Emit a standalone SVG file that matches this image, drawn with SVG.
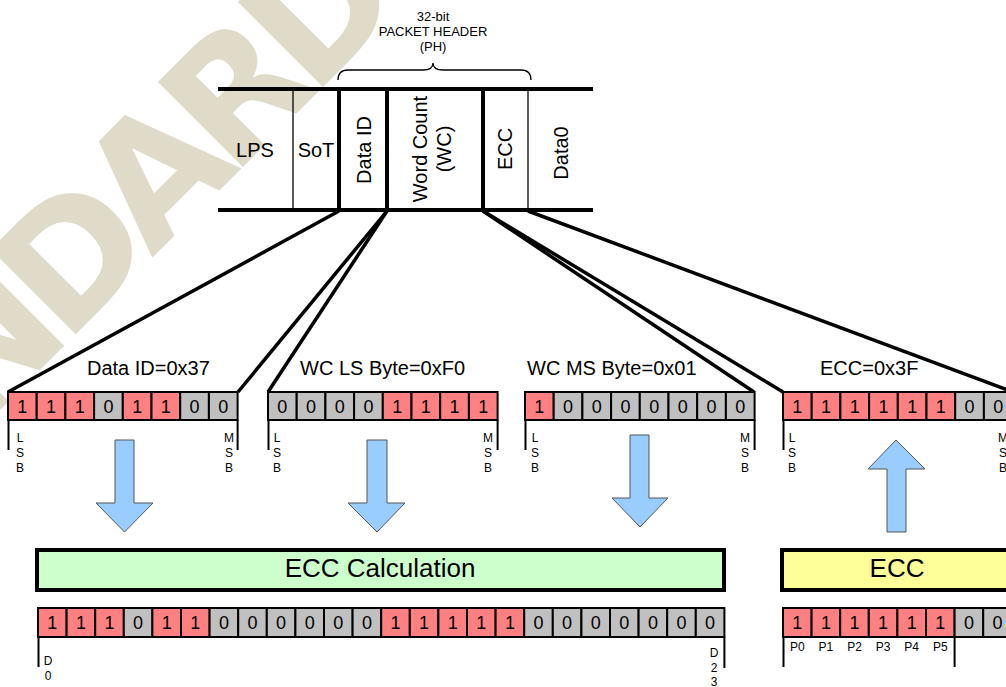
<svg xmlns="http://www.w3.org/2000/svg" width="1006" height="687" viewBox="0 0 1006 687">
<style>
text{font-family:"Liberation Sans",Arial,sans-serif;fill:#000}
.hdr{font-size:20px;text-anchor:middle}
.ttl{font-size:13px;text-anchor:middle}
.lbl{font-size:20px}
.bit{font-size:18px;text-anchor:middle}
.sm{font-size:12px;text-anchor:middle}
.r{fill:#FF8080;stroke:#000;stroke-width:2}
.g{fill:#C0C0C0;stroke:#000;stroke-width:2}
.thick{stroke:#000;stroke-width:4;fill:none}
.thin{stroke:#000;stroke-width:1.3;fill:none}
.conn{stroke:#000;stroke-width:3.5;fill:none}
.tick{stroke:#000;stroke-width:2;fill:none}
.arr{fill:#99CCFF;stroke:#555;stroke-width:1}
.wm{font-family:"DejaVu Sans",sans-serif;font-weight:bold;font-size:165px;letter-spacing:-14px;fill:#E0DBC8}
</style>
<rect width="1006" height="687" fill="#fff"/>
<text class="wm" transform="translate(-238,648) rotate(-45)">STANDARD</text>

<g id="header">
<line class="thick" x1="218" y1="89" x2="593" y2="89"/>
<line class="thick" x1="218" y1="210" x2="593" y2="210"/>
<line class="thin" x1="293" y1="89" x2="293" y2="210"/>
<line class="thick" x1="339" y1="89" x2="339" y2="210"/>
<line class="thick" x1="387" y1="89" x2="387" y2="210"/>
<line class="thick" x1="483" y1="89" x2="483" y2="210"/>
<line class="thin" x1="528" y1="89" x2="528" y2="210"/>
<text class="hdr" x="255" y="157">LPS</text>
<text class="hdr" x="316" y="157">SoT</text>
<text class="hdr" transform="translate(371,150) rotate(-90)">Data ID</text>
<text class="hdr" transform="translate(427,149) rotate(-90)">Word Count</text>
<text class="hdr" transform="translate(451,149) rotate(-90)">(WC)</text>
<text class="hdr" transform="translate(512,149) rotate(-90)">ECC</text>
<text class="hdr" transform="translate(568,153) rotate(-90)">Data0</text>
</g>

<g id="ph-brace">
<path class="thin" stroke-width="1" d="M338,80 Q338,70 348,70 L423,70 Q433,70 433,63 Q433,70 443,70 L521,70 Q531,70 531,80"/>
<text class="ttl" x="433" y="21">32-bit</text>
<text class="ttl" x="433" y="36">PACKET HEADER</text>
<text class="ttl" x="433" y="51">(PH)</text>
</g>

<g id="connectors">
<line class="conn" x1="339" y1="211" x2="8" y2="392"/>
<line class="conn" x1="387" y1="211" x2="238" y2="392"/>
<line class="conn" x1="387" y1="211" x2="268" y2="392"/>
<line class="conn" x1="483" y1="211" x2="754" y2="392"/>
<line class="conn" x1="483" y1="211" x2="783" y2="392"/>
<line class="conn" x1="528" y1="211" x2="1013" y2="392"/>
</g>

<g id="dataid-byte">
<text class="lbl" x="87" y="375">Data ID=0x37</text>
<rect class="r" x="8" y="392" width="28.7" height="28"/>
<rect class="r" x="36.7" y="392" width="28.7" height="28"/>
<rect class="r" x="65.4" y="392" width="28.7" height="28"/>
<rect class="g" x="94.1" y="392" width="28.7" height="28"/>
<rect class="r" x="122.8" y="392" width="28.7" height="28"/>
<rect class="r" x="151.5" y="392" width="28.7" height="28"/>
<rect class="g" x="180.2" y="392" width="28.7" height="28"/>
<rect class="g" x="208.9" y="392" width="28.7" height="28"/>
<text class="bit" x="22.35" y="413">1</text>
<text class="bit" x="51.05" y="413">1</text>
<text class="bit" x="79.75" y="413">1</text>
<text class="bit" x="108.45" y="413">0</text>
<text class="bit" x="137.15" y="413">1</text>
<text class="bit" x="165.85" y="413">1</text>
<text class="bit" x="194.55" y="413">0</text>
<text class="bit" x="223.25" y="413">0</text>
<line class="tick" x1="8.5" y1="420" x2="8.5" y2="450"/>
<line class="tick" x1="237.6" y1="420" x2="237.6" y2="450"/>
<text class="sm" x="20" y="442">L</text><text class="sm" x="20" y="457">S</text><text class="sm" x="20" y="472">B</text>
<text class="sm" x="229" y="442">M</text><text class="sm" x="229" y="457">S</text><text class="sm" x="229" y="472">B</text>
</g>

<g id="wcls-byte">
<text class="lbl" x="300" y="375">WC LS Byte=0xF0</text>
<rect class="g" x="268" y="392" width="28.7" height="28"/>
<rect class="g" x="296.7" y="392" width="28.7" height="28"/>
<rect class="g" x="325.4" y="392" width="28.7" height="28"/>
<rect class="g" x="354.1" y="392" width="28.7" height="28"/>
<rect class="r" x="382.8" y="392" width="28.7" height="28"/>
<rect class="r" x="411.5" y="392" width="28.7" height="28"/>
<rect class="r" x="440.2" y="392" width="28.7" height="28"/>
<rect class="r" x="468.9" y="392" width="28.7" height="28"/>
<text class="bit" x="282.35" y="413">0</text>
<text class="bit" x="311.05" y="413">0</text>
<text class="bit" x="339.75" y="413">0</text>
<text class="bit" x="368.45" y="413">0</text>
<text class="bit" x="397.15" y="413">1</text>
<text class="bit" x="425.85" y="413">1</text>
<text class="bit" x="454.55" y="413">1</text>
<text class="bit" x="483.25" y="413">1</text>
<line class="tick" x1="268.5" y1="420" x2="268.5" y2="450"/>
<line class="tick" x1="497.6" y1="420" x2="497.6" y2="450"/>
<text class="sm" x="277" y="442">L</text><text class="sm" x="277" y="457">S</text><text class="sm" x="277" y="472">B</text>
<text class="sm" x="488" y="442">M</text><text class="sm" x="488" y="457">S</text><text class="sm" x="488" y="472">B</text>
</g>

<g id="wcms-byte">
<text class="lbl" x="527" y="375">WC MS Byte=0x01</text>
<rect class="r" x="525" y="392" width="28.7" height="28"/>
<rect class="g" x="553.7" y="392" width="28.7" height="28"/>
<rect class="g" x="582.4" y="392" width="28.7" height="28"/>
<rect class="g" x="611.1" y="392" width="28.7" height="28"/>
<rect class="g" x="639.8" y="392" width="28.7" height="28"/>
<rect class="g" x="668.5" y="392" width="28.7" height="28"/>
<rect class="g" x="697.2" y="392" width="28.7" height="28"/>
<rect class="g" x="725.9" y="392" width="28.7" height="28"/>
<text class="bit" x="539.35" y="413">1</text>
<text class="bit" x="568.05" y="413">0</text>
<text class="bit" x="596.75" y="413">0</text>
<text class="bit" x="625.45" y="413">0</text>
<text class="bit" x="654.15" y="413">0</text>
<text class="bit" x="682.85" y="413">0</text>
<text class="bit" x="711.55" y="413">0</text>
<text class="bit" x="740.25" y="413">0</text>
<line class="tick" x1="525.5" y1="420" x2="525.5" y2="450"/>
<line class="tick" x1="754.6" y1="420" x2="754.6" y2="450"/>
<text class="sm" x="535" y="442">L</text><text class="sm" x="535" y="457">S</text><text class="sm" x="535" y="472">B</text>
<text class="sm" x="745" y="442">M</text><text class="sm" x="745" y="457">S</text><text class="sm" x="745" y="472">B</text>
</g>

<g id="ecc-byte">
<text class="lbl" x="820" y="375">ECC=0x3F</text>
<rect class="r" x="783" y="392" width="28.7" height="28"/>
<rect class="r" x="811.7" y="392" width="28.7" height="28"/>
<rect class="r" x="840.4" y="392" width="28.7" height="28"/>
<rect class="r" x="869.1" y="392" width="28.7" height="28"/>
<rect class="r" x="897.8" y="392" width="28.7" height="28"/>
<rect class="r" x="926.5" y="392" width="28.7" height="28"/>
<rect class="g" x="955.2" y="392" width="28.7" height="28"/>
<rect class="g" x="983.9" y="392" width="28.7" height="28"/>
<text class="bit" x="797.35" y="413">1</text>
<text class="bit" x="826.05" y="413">1</text>
<text class="bit" x="854.75" y="413">1</text>
<text class="bit" x="883.45" y="413">1</text>
<text class="bit" x="912.15" y="413">1</text>
<text class="bit" x="940.85" y="413">1</text>
<text class="bit" x="969.55" y="413">0</text>
<text class="bit" x="998.25" y="413">0</text>
<line class="tick" x1="783.5" y1="420" x2="783.5" y2="450"/>
<line class="tick" x1="1012.6" y1="420" x2="1012.6" y2="450"/>
<text class="sm" x="792" y="442">L</text><text class="sm" x="792" y="457">S</text><text class="sm" x="792" y="472">B</text>
<text class="sm" x="1003" y="442">M</text><text class="sm" x="1003" y="457">S</text><text class="sm" x="1003" y="472">B</text>
</g>

<g id="arrows">
<path class="arr" d="M115,440 H134 V503 H153 L124.5,532 L96,503 H115 Z"/>
<path class="arr" d="M367,440 H387 V503 H405 L377,532 L348,503 H367 Z"/>
<path class="arr" d="M630,435 H649 V498 H668 L640,527 L612,498 H630 Z"/>
<path class="arr" d="M887,532 V469 H868 L896,440 L925,469 H906 V532 Z"/>
</g>

<g id="ecc-calc">
<rect x="37" y="550" width="687" height="40" fill="#CCFFCC" stroke="#000" stroke-width="4"/>
<text x="380" y="577" font-size="26" text-anchor="middle">ECC Calculation</text>
</g>

<g id="ecc-block">
<rect x="782" y="550" width="240" height="40" fill="#FFFF99" stroke="#000" stroke-width="4"/>
<text x="897" y="577" font-size="26" text-anchor="middle">ECC</text>
</g>

<g id="data-bits">
<rect class="r" x="38" y="608" width="28.6" height="29"/>
<rect class="r" x="66.6" y="608" width="28.6" height="29"/>
<rect class="r" x="95.2" y="608" width="28.6" height="29"/>
<rect class="g" x="123.8" y="608" width="28.6" height="29"/>
<rect class="r" x="152.4" y="608" width="28.6" height="29"/>
<rect class="r" x="181" y="608" width="28.6" height="29"/>
<rect class="g" x="209.6" y="608" width="28.6" height="29"/>
<rect class="g" x="238.2" y="608" width="28.6" height="29"/>
<rect class="g" x="266.8" y="608" width="28.6" height="29"/>
<rect class="g" x="295.4" y="608" width="28.6" height="29"/>
<rect class="g" x="324" y="608" width="28.6" height="29"/>
<rect class="g" x="352.6" y="608" width="28.6" height="29"/>
<rect class="r" x="381.2" y="608" width="28.6" height="29"/>
<rect class="r" x="409.8" y="608" width="28.6" height="29"/>
<rect class="r" x="438.4" y="608" width="28.6" height="29"/>
<rect class="r" x="467" y="608" width="28.6" height="29"/>
<rect class="r" x="495.6" y="608" width="28.6" height="29"/>
<rect class="g" x="524.2" y="608" width="28.6" height="29"/>
<rect class="g" x="552.8" y="608" width="28.6" height="29"/>
<rect class="g" x="581.4" y="608" width="28.6" height="29"/>
<rect class="g" x="610" y="608" width="28.6" height="29"/>
<rect class="g" x="638.6" y="608" width="28.6" height="29"/>
<rect class="g" x="667.2" y="608" width="28.6" height="29"/>
<rect class="g" x="695.8" y="608" width="28.6" height="29"/>
<text class="bit" x="52.3" y="629">1</text>
<text class="bit" x="80.9" y="629">1</text>
<text class="bit" x="109.5" y="629">1</text>
<text class="bit" x="138.1" y="629">0</text>
<text class="bit" x="166.7" y="629">1</text>
<text class="bit" x="195.3" y="629">1</text>
<text class="bit" x="223.9" y="629">0</text>
<text class="bit" x="252.5" y="629">0</text>
<text class="bit" x="281.1" y="629">0</text>
<text class="bit" x="309.7" y="629">0</text>
<text class="bit" x="338.3" y="629">0</text>
<text class="bit" x="366.9" y="629">0</text>
<text class="bit" x="395.5" y="629">1</text>
<text class="bit" x="424.1" y="629">1</text>
<text class="bit" x="452.7" y="629">1</text>
<text class="bit" x="481.3" y="629">1</text>
<text class="bit" x="509.9" y="629">1</text>
<text class="bit" x="538.5" y="629">0</text>
<text class="bit" x="567.1" y="629">0</text>
<text class="bit" x="595.7" y="629">0</text>
<text class="bit" x="624.3" y="629">0</text>
<text class="bit" x="652.9" y="629">0</text>
<text class="bit" x="681.5" y="629">0</text>
<text class="bit" x="710.1" y="629">0</text>
<line class="tick" x1="38.5" y1="637" x2="38.5" y2="667"/>
<line class="tick" x1="724.4" y1="637" x2="724.4" y2="668"/>
<text class="sm" x="48" y="665">D</text><text class="sm" x="48" y="680">0</text>
<text class="sm" x="714" y="657">D</text><text class="sm" x="714" y="672">2</text><text class="sm" x="714" y="686">3</text>
</g>

<g id="ecc-bits">
<rect class="r" x="783" y="608" width="28.6" height="29"/>
<rect class="r" x="811.6" y="608" width="28.6" height="29"/>
<rect class="r" x="840.2" y="608" width="28.6" height="29"/>
<rect class="r" x="868.8" y="608" width="28.6" height="29"/>
<rect class="r" x="897.4" y="608" width="28.6" height="29"/>
<rect class="r" x="926" y="608" width="28.6" height="29"/>
<rect class="g" x="954.6" y="608" width="28.6" height="29"/>
<rect class="g" x="983.2" y="608" width="28.6" height="29"/>
<text class="bit" x="797.3" y="629">1</text>
<text class="bit" x="825.9" y="629">1</text>
<text class="bit" x="854.5" y="629">1</text>
<text class="bit" x="883.1" y="629">1</text>
<text class="bit" x="911.7" y="629">1</text>
<text class="bit" x="940.3" y="629">1</text>
<text class="bit" x="968.9" y="629">0</text>
<text class="bit" x="997.5" y="629">0</text>
<line class="tick" x1="783.5" y1="637" x2="783.5" y2="667"/>
<line class="tick" x1="954.6" y1="637" x2="954.6" y2="667"/>
<text class="sm" x="797.3" y="651">P0</text>
<text class="sm" x="825.9" y="651">P1</text>
<text class="sm" x="854.5" y="651">P2</text>
<text class="sm" x="883.1" y="651">P3</text>
<text class="sm" x="911.7" y="651">P4</text>
<text class="sm" x="940.3" y="651">P5</text>
</g>
</svg>
